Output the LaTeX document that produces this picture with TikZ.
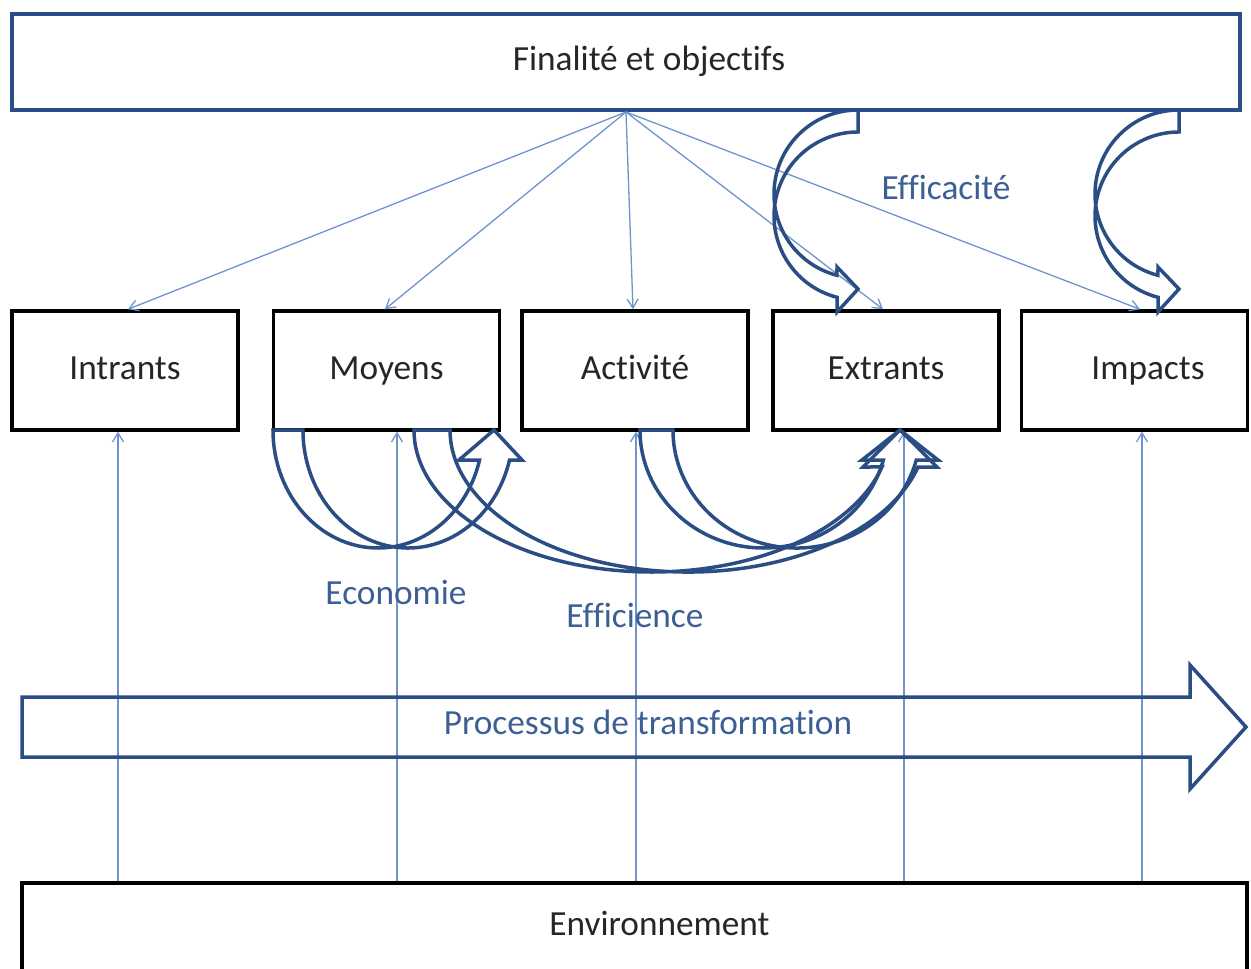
\documentclass[tikz,border=0pt]{standalone}
\usepackage{fontspec}
\setmainfont{Carlito}[Ligatures=NoCommon]
\usetikzlibrary{arrows.meta}
\definecolor{outlineblue}{RGB}{42,78,132}
\definecolor{linkblue}{RGB}{110,148,205}
\definecolor{labelblue}{RGB}{60,95,148}

\begin{document}
\begin{tikzpicture}[
        x=1pt, y=-1pt,
        box/.style={draw, line width=3.5pt, minimum width=226pt, minimum height=119pt, inner sep=0pt, text height=24pt, text depth=7pt, font=\fontsize{35.3}{42}\selectfont, text=black!85},
        link/.style={-{Straight Barb[length=9pt, width=11pt]}, linkblue, line width=1.3pt},
        curvebox/.style={outlineblue, line width=3.5pt},
        tag/.style={text=labelblue, font=\fontsize{35.3}{42}\selectfont}
    ]
        \useasboundingbox (0,0) rectangle (1251,969);

        % Goal
        \node[box, draw=outlineblue, line width=4pt, minimum width=1228pt, minimum height=96pt] (fin) at (626,62) {\hspace*{46pt}Finalité et objectifs};

        % Chain
        \node[box] (intr) at (125,370.5) {Intrants};
        \node[box] (moy) at (386.5,370.5) {Moyens};
        \node[box] (act) at (635,370.5) {Activité};
        \node[box] (extr) at (886,370.5) {Extrants};
        \node[box] (imp) at (1134.5,370.5) {\hspace*{27pt}Impacts};

        % Environment
        \node[box, line width=4pt, minimum width=1225pt, minimum height=0pt, text height=52pt, text depth=80pt, anchor=north] (env) at (634.5,881) {\hspace*{50pt}Environnement};

        % Thin links
        \foreach \n/\x in {intr/128, moy/385, act/633, extr/883, imp/1140}
            \draw[link] (fin.south) -- (\x,0 |- \n.north);
        \foreach \n/\x in {intr/118, moy/397, act/636, extr/904, imp/1142}
            \draw[link] (\x,0 |- env.north) -- (\x,0 |- \n.south);

        % Efficacite
        \foreach \s in {0,321}
            \draw[curvebox, shift={(\s,0)}] (858,110) arc[start angle=270, end angle=104.5, radius=84] -- (837,267) -- (858,289) -- (837,312) -- (837,297.3) arc[start angle=104.5, end angle=270, radius=84] -- cycle;

        % Economie
        \draw[curvebox] (273,430) arc[start angle=180, end angle=14.73, x radius=105, y radius=118] -- (459,460) -- (494,430) -- (522,460) -- (509.5,460) arc[start angle=14.73, end angle=180, x radius=105, y radius=118] -- cycle;

        % Efficience
        \draw[curvebox] (414,430) arc[start angle=180, end angle=15.1, x radius=238.1, y radius=142] -- (863,467) -- (900,430) -- (937,467) -- (918,467) arc[start angle=15.1, end angle=180, x radius=238.1, y radius=142] -- cycle;
        \draw[curvebox] (640,430) arc[start angle=180, end angle=14.73, x radius=123.7, y radius=118] -- (862,460) -- (900,430) -- (938,460) -- (916.3,460) arc[start angle=14.73, end angle=180, x radius=123.7, y radius=118] -- cycle;

        % Process
        \draw[curvebox] (22,697) -- (1190,697) -- (1190,665) -- (1246,727) -- (1190,789) -- (1190,757) -- (22,757) -- cycle;

        % Labels
        \node[tag] (proc) at (648,722) {Processus de transformation};
        \node[tag] (eco) at (396,592) {Economie};
        \node[tag] (effi) at (635,615) {Efficience};
        \node[tag] (effa) at (946,187) {Efficacité};
    \end{tikzpicture}
\end{document}
